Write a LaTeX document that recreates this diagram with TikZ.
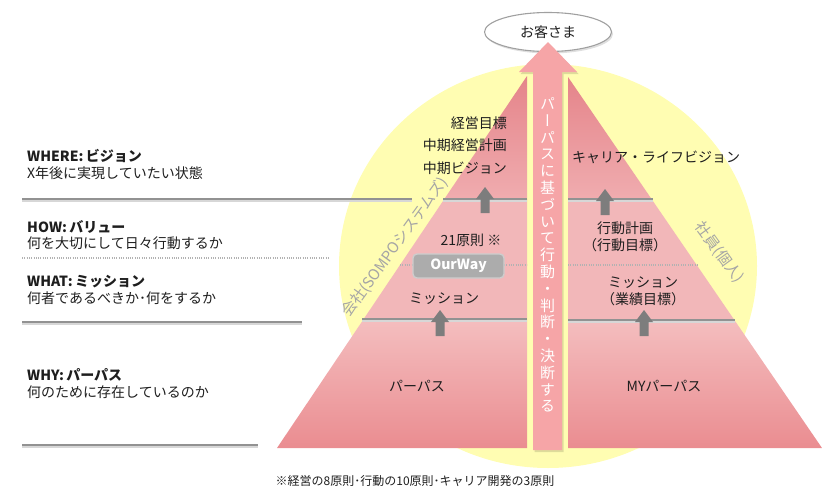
\documentclass[tikz,border=0pt]{standalone}
\usepackage{fontspec}
\setmainfont{Noto Sans CJK JP}
\newfontfamily\vfont{Noto Sans CJK JP}[RawFeature=+vert]
\usetikzlibrary{shapes.geometric,shadows,calc}
\definecolor{yel}{RGB}{255,253,178}
\definecolor{pkA}{RGB}{228,130,136}
\definecolor{pkB}{RGB}{240,172,175}
\definecolor{pkM}{RGB}{242,183,185}
\definecolor{pkC}{RGB}{244,190,191}
\definecolor{pkD}{RGB}{234,140,144}
\definecolor{bigpink}{RGB}{246,165,167}
\definecolor{lg}{RGB}{146,146,146}
\definecolor{lgs}{RGB}{215,215,215}
\definecolor{dotg}{RGB}{178,178,178}
\definecolor{arrg}{RGB}{125,125,125}
\definecolor{txt}{RGB}{30,30,30}
\definecolor{lblg}{RGB}{165,165,165}
\definecolor{ellg}{RGB}{160,160,160}
\definecolor{owfill}{RGB}{172,172,172}
\definecolor{owdraw}{RGB}{205,205,205}
\tikzset{
  hl/.style={draw=lg, line width=2.6pt,
    preaction={draw=lgs, line width=2.4pt, transform canvas={yshift=-2pt}}},
  dotl/.style={draw=dotg, line width=2.2pt, dash pattern=on 1pt off 1.3pt},
  lbl/.style={font=\fontsize{14}{16.5}\selectfont, text=txt, align=left, anchor=west, inner sep=0pt},
  ptxt/.style={font=\fontsize{14}{17}\selectfont, text=txt, align=center, inner sep=0pt},
  sidelbl/.style={font=\fontsize{15}{17}\selectfont, text=lblg, inner sep=0pt},
  grayup/.pic={\fill[arrg] (-4.5,0) -- (-4.5,-14) -- (-9,-14) -- (0,-26) -- (9,-14) -- (4.5,-14) -- (4.5,0) -- cycle;}
}
\begin{document}
\begin{tikzpicture}[x=1pt,y=-1pt]
\useasboundingbox (0,0) rectangle (840,493);
% yellow disc
\fill[yel] (548,266) ellipse [x radius=209pt, y radius=202pt];
% left half of pyramid
\begin{scope}
\clip (277,448) -- (527,448) -- (527,76) -- cycle;
\shade[top color=pkA, bottom color=pkB] (270,70) rectangle (530,199);
\fill[pkM] (270,199) rectangle (530,320);
\shade[top color=pkC, bottom color=pkD] (270,320) rectangle (530,449);
\end{scope}
% right half of pyramid
\begin{scope}
\clip (568,448) -- (822,448) -- (568,77) -- cycle;
\shade[top color=pkA, bottom color=pkB] (565,70) rectangle (830,199);
\fill[pkM] (565,199) rectangle (830,320);
\shade[top color=pkC, bottom color=pkD] (565,320) rectangle (830,449);
\end{scope}
% level lines
\draw[hl] (22,199) -- (412,199);
\draw[hl] (443,199) -- (527,199);
\draw[hl] (568,199) -- (653,199);
\draw[dotl] (22,258) -- (330,258);
\draw[dotl] (400,265) -- (413,265);
\draw[dotl] (504,265) -- (527,265);
\draw[dotl] (568,265) -- (698,265);
\draw[hl] (22,322) -- (302,322);
\draw[hl] (362,319) -- (527,319);
\draw[hl] (568,320) -- (735,320);
\draw[hl] (22,445) -- (258,445);
% small gray arrows
\pic at (485,213) {grayup};
\pic at (440,336) {grayup};
\pic at (605,215) {grayup};
\pic at (644,336) {grayup};
% left labels
\node[lbl] (where) at (27,164.6) {{\bfseries WHERE:\,ビジョン}\\X年後に実現していたい状態};
\node[lbl] (how) at (27,235) {{\bfseries HOW:\,バリュー}\\何を大切にして日々行動するか};
\node[lbl] (what) at (27,290) {{\bfseries WHAT:\,ミッション}\\何者であるべきか･何をするか};
\node[lbl] (why) at (27,383.7) {{\bfseries WHY:\,パーパス}\\何のために存在しているのか};
% left pyramid texts
\node[ptxt, align=right, anchor=east, font=\fontsize{14}{22.5}\selectfont] (cvis) at (507,145.5) {経営目標\\中期経営計画\\中期ビジョン};
\node[ptxt] (p21) at (471,240) {21原則 ※};
\node[draw=owdraw, line width=1.4pt, fill=owfill, rounded corners=4pt, minimum width=91pt, minimum height=24pt, text=white, font=\bfseries\fontsize{14}{16}\selectfont, inner sep=0pt] (ourway) at (458.5,266) {OurWay};
\node[ptxt] (cmis) at (444,299) {ミッション};
\node[ptxt] (cpur) at (417,386) {パーパス};
% right pyramid texts
\node[ptxt] (pvis) at (656,157) {キャリア・ライフビジョン};
\node[ptxt] (pact) at (625,236.5) {行動計画\\（行動目標）};
\node[ptxt] (pmis) at (643,291.5) {ミッション\\（業績目標）};
\node[ptxt] (ppur) at (664,386) {MYパーパス};
% side labels
\node[sidelbl, rotate=54] (corp) at (395,247) {会社(SOMPOシステムズ)};
\node[sidelbl, rotate=-54] (staff) at (719.5,252.5) {社員(個人)};
% customer ellipse
\node[ellipse, draw=ellg, line width=1.1pt, fill=white, minimum width=127pt, minimum height=39pt, inner sep=0pt,
  drop shadow={opacity=0.25, shadow xshift=1.5pt, shadow yshift=-2pt},
  font=\fontsize{14}{16}\selectfont, text=txt] (cust) at (548,32) {お客さま};
% big arrow
\fill[black, opacity=0.13] (534.5,452) -- (534.5,74) -- (520.5,74) -- (549.5,44) -- (578.5,74) -- (563.5,74) -- (563.5,452) -- cycle;
\fill[bigpink] (533,450) -- (533,72) -- (519,72) -- (548,42) -- (577,72) -- (562,72) -- (562,450) -- cycle;
\node[text=white, align=center, inner sep=0pt, font=\vfont\fontsize{15}{16.8}\selectfont] (vtext) at (547.5,255)
 {パ\\ー\\パ\\ス\\に\\基\\づ\\い\\て\\行\\動\\・\\判\\断\\・\\決\\断\\す\\る};
% footnote
\node[font=\fontsize{12}{14}\selectfont, text=txt, inner sep=0pt] (note) at (415,481) {※経営の8原則･行動の10原則･キャリア開発の3原則};
\end{tikzpicture}
\end{document}
